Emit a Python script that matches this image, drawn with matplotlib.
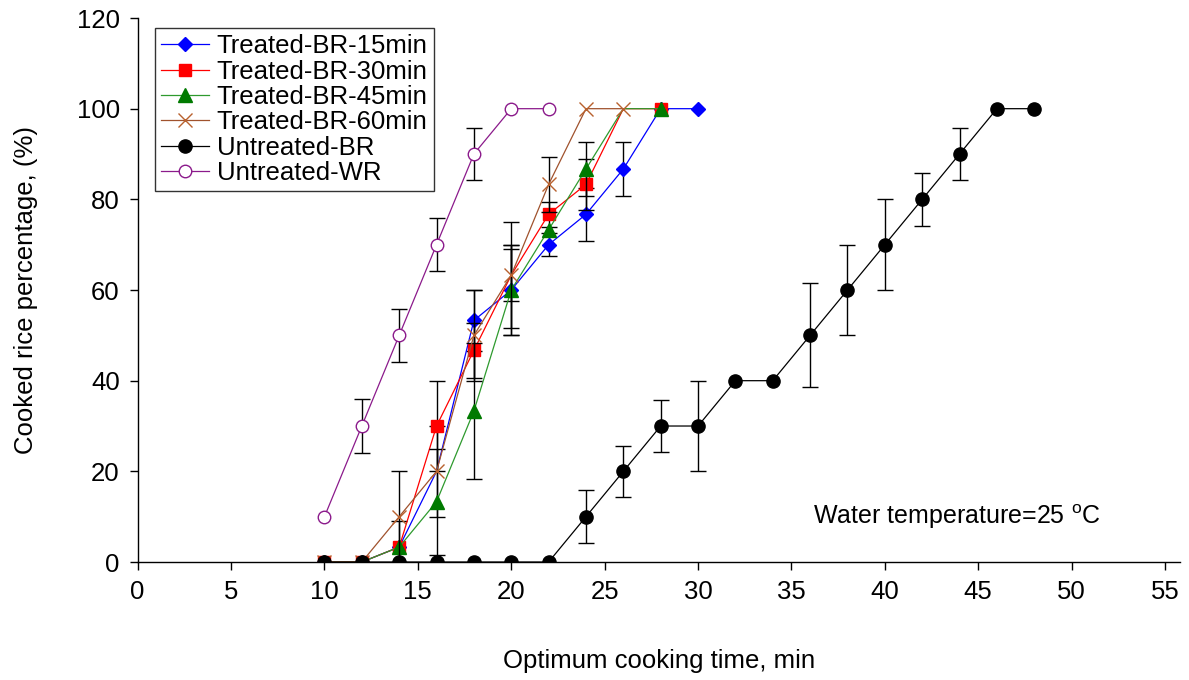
import matplotlib
matplotlib.use("Agg")
import matplotlib.pyplot as plt
import numpy as np

plt.rcParams['font.family'] = ['Liberation Sans', 'DejaVu Sans']
plt.rcParams['mathtext.fontset'] = 'custom'
plt.rcParams['mathtext.rm'] = 'Liberation Sans'

# time, min
t_15 = [10, 12, 14, 16, 18, 20, 22, 24, 26, 28, 30]
t_30 = [10, 12, 14, 16, 18, 20, 22, 24, 26, 28]
t_45 = [10, 12, 14, 16, 18, 20, 22, 24, 26, 28]
t_60 = [10, 12, 14, 16, 18, 20, 22, 24, 26]
t_br = [10, 12, 14, 16, 18, 20, 22, 24, 26, 28, 30, 32, 34, 36, 38, 40, 42, 44, 46, 48]
t_wr = [10, 12, 14, 16, 18, 20, 22]

# cooked rice percentage and error
y_15 = [0, 0, 3.3, 20, 53.3, 60, 70, 76.7, 86.7, 100, 100]
e_15 = [0, 0, 0, 10, 6.7, 10, 2.5, 5.8, 6, 0, 0]
y_30 = [0, 0, 3.3, 30, 46.7, 63.3, 76.7, 83.3, 100, 100]
e_30 = [0, 0, 5.8, 10, 6, 5.8, 2.8, 5.6, 0, 0]
y_45 = [0, 0, 3.3, 13.3, 33.3, 60, 73.3, 86.7, 100, 100]
e_45 = [0, 0, 0, 11.7, 15, 10, 0, 6, 0, 0]
y_60 = [0, 0, 10, 20, 50, 63.3, 83.3, 100, 100]
e_60 = [0, 0, 10, 0, 10, 11.7, 6, 0, 0]
y_br = [0, 0, 0, 0, 0, 0, 0, 10, 20, 30, 30, 40, 40, 50, 60, 70, 80, 90, 100, 100]
e_br = [0, 0, 0, 0, 0, 0, 0, 5.8, 5.7, 5.8, 10, 0, 0, 11.5, 10, 10, 5.8, 5.8, 0, 0]
y_wr = [10, 30, 50, 70, 90, 100, 100]
e_wr = [0, 5.9, 5.9, 5.9, 5.8, 0, 0]

# points whose symbol is not shown in the original
hidden = {
    'Treated-BR-15min': [16],
    'Treated-BR-30min': [20, 26],
    'Treated-BR-45min': [26],
}

fig = plt.figure(figsize=(11.89, 6.8), dpi=100)
ax = fig.add_axes([0.1158, 0.1735, 0.8766, 0.8])

series = [
    (t_15, y_15, e_15, 'Treated-BR-15min', dict(color='#0000ff', marker='D', ms=7.5, mfc='#0000ff', mec='#0000ff')),
    (t_30, y_30, e_30, 'Treated-BR-30min', dict(color='#ff0000', marker='s', ms=8.5, mfc='#ff0000', mec='#ff0000')),
    (t_45, y_45, e_45, 'Treated-BR-45min', dict(color='#2e9a2e', marker='^', ms=9.5, mfc='#007a00', mec='#007a00')),
    (t_60, y_60, e_60, 'Treated-BR-60min', dict(color='#a0522d', marker='x', ms=10, mew=1.0, mec='#b8612e')),
    (t_br, y_br, e_br, 'Untreated-BR', dict(color='black', marker='o', ms=9.5, mfc='black', mec='black')),
    (t_wr, y_wr, e_wr, 'Untreated-WR', dict(color='#8b1a8b', marker='o', ms=9, mfc='white', mec='#8b1a8b', mew=1.0)),
]

for i, (x, y, e, label, style) in enumerate(series):
    x = np.array(x)
    y = np.array(y)
    e = np.array(e)
    m = e > 0
    ax.errorbar(x[m], y[m], yerr=e[m], fmt='none', ecolor='black', elinewidth=1.0,
                capsize=6, capthick=1.0, zorder=2 + i)
    shown = [k for k, xv in enumerate(x) if xv not in hidden.get(label, [])]
    ax.plot(x, y, lw=0.9, label=label, zorder=2.5 + i, markevery=shown, **style)

ax.set_xlim(0, 55.8)
ax.set_ylim(0, 120)
ax.set_xticks(np.arange(0, 56, 5))
ax.set_yticks(np.arange(0, 121, 20))
ax.spines['top'].set_visible(False)
ax.spines['right'].set_visible(False)
for s in ['left', 'bottom']:
    ax.spines[s].set_linewidth(1.0)
ax.tick_params(direction='out', length=6, width=1.0, labelsize=18.5, pad=7)

ax.set_xlabel('Optimum cooking time, min', fontsize=18.5, labelpad=32)
ax.set_ylabel('Cooked rice percentage, (%)', fontsize=18.5, labelpad=28)

ax.text(36.15, 10.1, r'Water temperature=25 $^\mathrm{o}$C', fontsize=18, va='center', ha='left')

leg = ax.legend(loc='upper left', bbox_to_anchor=(0.0166, 0.9816), borderaxespad=0,
                fontsize=18.5, handlelength=1.85, handletextpad=0.3, borderpad=0.25,
                labelspacing=0.05, fancybox=False, frameon=True, edgecolor='black')
leg.get_frame().set_linewidth(1.0)

fig.savefig('out.png', dpi=100)
